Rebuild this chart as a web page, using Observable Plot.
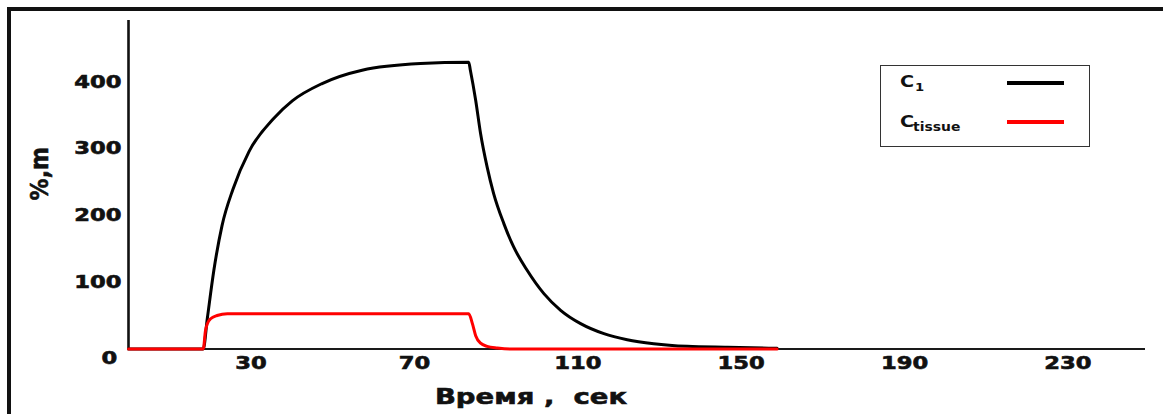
<!DOCTYPE html>
<html>
<head>
<meta charset="utf-8">
<script src="https://cdn.jsdelivr.net/npm/d3@7"></script>
<script src="https://cdn.jsdelivr.net/npm/@observablehq/plot@0.6"></script>
<style>
  body { margin: 0; background: #fff; }
  #wrap { position: relative; width: 1163px; height: 414px; overflow: hidden; background: #fff; }
  #chart svg { display: block; }
  #chart svg text { stroke: #111; stroke-width: 0.6px; paint-order: stroke; }
  .frame { position: absolute; left: 7px; top: 7px; right: -20px; bottom: -20px;
           border-left: 4px solid #111; border-top: 4px solid #111; pointer-events: none; }
  .legend { position: absolute; left: 880px; top: 65px; width: 210px; height: 82px;
            box-sizing: border-box; border: 1.5px solid #333; background: #fff;
            font-family: "DejaVu Sans", sans-serif; color: #111; }
  .legend span { position: absolute; font-weight: bold; white-space: nowrap; }
  .legend .big { font-size: 16px; line-height: 16px; transform: scaleX(1.2); transform-origin: 0 0; }
  .legend .sub1 { font-size: 11px; line-height: 11px; transform: scaleX(1.2); transform-origin: 0 0; }
  .legend .sub2 { font-size: 13px; line-height: 13px; transform: scaleX(1.07); transform-origin: 0 0; }
  .legend i { position: absolute; display: block; height: 4px; width: 57px; left: 125.5px; }
</style>
</head>
<body>
<div id="wrap">
  <div id="chart"></div>
  <div class="frame"></div>
  <div class="legend">
    <span class="big" style="left:18.5px;top:8px">C</span>
    <span class="sub1" style="left:33.5px;top:16px">1</span>
    <i style="top:14.5px;background:#000"></i>
    <span class="big" style="left:18.5px;top:48px">C</span>
    <span class="sub2" style="left:32px;top:54px">tissue</span>
    <i style="top:53.5px;background:#ff0000"></i>
  </div>
</div>
<script>
// Time axis (seconds) and series values
const c1Time  = [0, 18.3, 19.3, 20.9, 22.9, 25.6, 29.5, 35.6, 40.1, 47.4, 57.2, 71.5, 83.3,
                 83.7, 85.0, 86.2, 87.8, 89.4, 91.9, 94.3, 97.6, 101.7, 105.8, 110.7, 116.4,
                 122.1, 128.6, 136.8, 146.6, 158.8];
const c1Value = [0, 0, 46, 118, 185, 240, 296, 346, 372, 398, 418, 428, 430,
                 418, 373, 323, 273, 233, 188, 153, 118, 83, 58, 38, 23,
                 14, 8, 4, 2.5, 1];

const tissueTime  = [0, 18.3, 18.85, 19.3, 20.1, 21.7, 24.2, 83.3, 84.2, 85.0, 86.2, 87.8, 90.3, 93.5, 158.8];
const tissueValue = [0, 0, 27.7, 37.8, 45.3, 50.2, 52.8, 52.8, 38, 20, 8.7, 4, 1.5, 0, 0];

const xTicks = [30, 70, 110, 150, 190, 230];
const yTicks = [100, 200, 300, 400];
const originTick = [0];
const xDomain = [0, 249];
const yDomain = [0, 492.5];
const xTitle = "Время ,\u00a0\u00a0сек";
const yTitle = "%,m";

const c1 = c1Time.map((t, i) => ({t, v: c1Value[i]}));
const tissue = tissueTime.map((t, i) => ({t, v: tissueValue[i]}));

const svg = Plot.plot({
  width: 1163,
  height: 414,
  marginLeft: 128,
  marginRight: 18,
  marginTop: 20,
  marginBottom: 65.5,
  x: {domain: xDomain},
  y: {domain: yDomain},
  style: {fontFamily: "DejaVu Sans, sans-serif", fontWeight: "bold", fontSize: "17px", color: "#111", background: "#fff", overflow: "visible"},
  marks: [
    Plot.ruleY([0], {stroke: "#1a1a1a", strokeWidth: 2}),
    Plot.ruleX([0], {stroke: "#111", strokeWidth: 2.6}),
    Plot.axisX({ticks: xTicks, tickSize: 0, tickPadding: 7.5, label: null, fontSize: 17, fontWeight: "bold"}),
    Plot.axisY({ticks: yTicks, tickSize: 0, tickPadding: 7, label: null, fontSize: 17, fontWeight: "bold"}),
    Plot.axisY({ticks: originTick, tickSize: 0, tickPadding: 11.3, dy: 10, label: null, fontSize: 17, fontWeight: "bold"}),
    Plot.line(c1, {x: "t", y: "v", stroke: "#000", strokeWidth: 3, curve: "monotone-x"}),
    Plot.line(tissue, {x: "t", y: "v", stroke: "#ff0000", strokeWidth: 3, curve: "monotone-x"}),
    Plot.text([xTitle], {frameAnchor: "bottom", textAnchor: "middle", lineAnchor: "middle", dx: -106, dy: 48, fontSize: 22, fontWeight: "bold", fill: "#111"}),
    Plot.text([yTitle], {frameAnchor: "left", textAnchor: "middle", lineAnchor: "middle", rotate: -90, dx: -89, dy: -11, fontSize: 25, fontWeight: "bold", fill: "#111"})
  ]
});

document.getElementById("chart").appendChild(svg);

function stretch(el, f) {
  const L = el.getComputedTextLength();
  el.setAttribute("textLength", (L * f).toFixed(2));
  el.setAttribute("lengthAdjust", "spacingAndGlyphs");
}
svg.querySelectorAll('g[aria-label="x-axis tick label"] text, g[aria-label="y-axis tick label"] text')
  .forEach(el => stretch(el, 1.33));
svg.querySelectorAll("text").forEach(el => {
  if (el.textContent === xTitle) stretch(el, 1.25);
  if (el.textContent === yTitle) stretch(el, 0.88);
});
</script>
</body>
</html>
